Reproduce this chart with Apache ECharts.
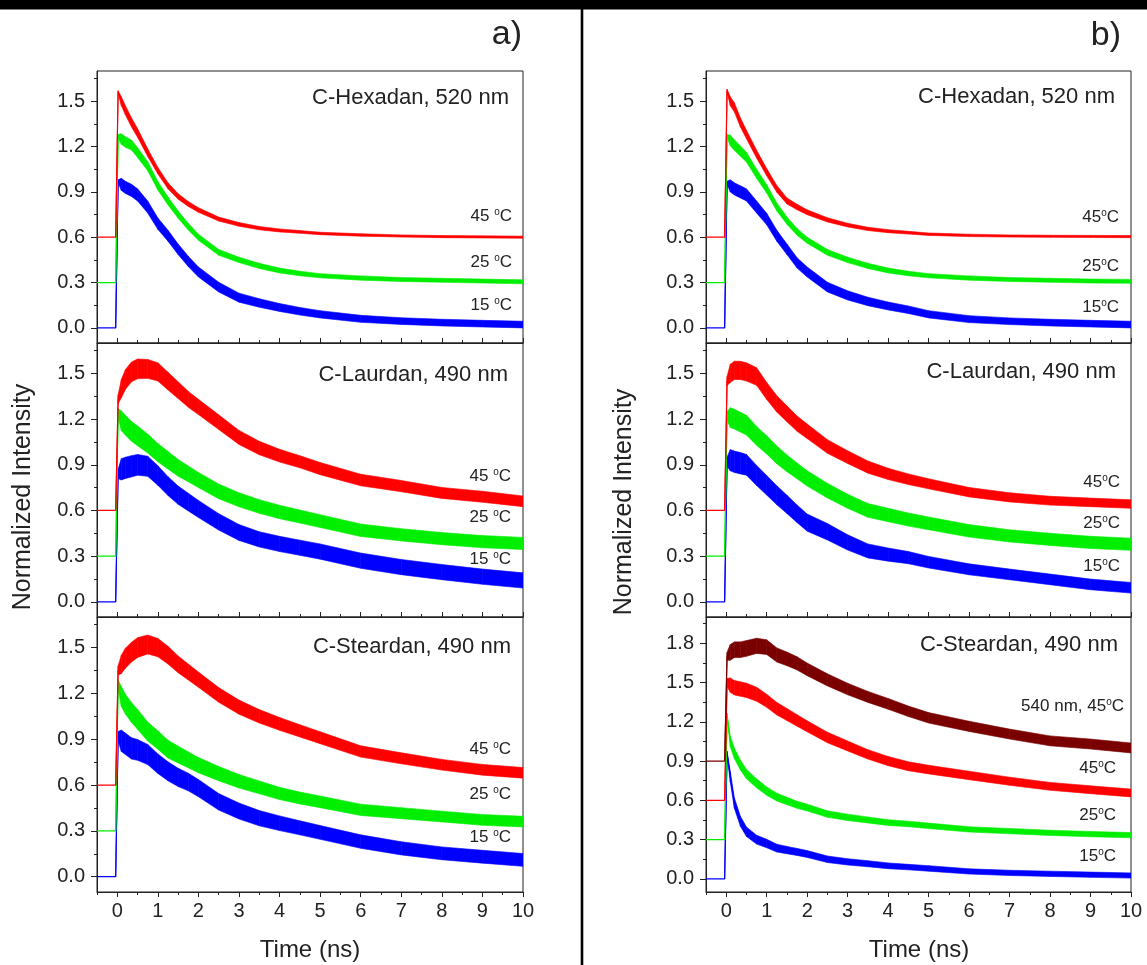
<!DOCTYPE html>
<html><head><meta charset="utf-8">
<script src="https://cdn.jsdelivr.net/npm/echarts@6/dist/echarts.min.js"></script>
<style>html,body{margin:0;padding:0;background:#fff}#c{width:1147px;height:965px}</style>
</head><body><div id="c"></div>
<script>
// ---------- DATA ----------
const T = [-0.5,-0.04,0.02,0.1,0.2,0.35,0.5,0.75,1,1.25,1.5,1.75,2,2.5,3,3.5,4,4.5,5,6,7,8,9,10];
const xTicks = [0,1,2,3,4,5,6,7,8,9,10];
const xMinorTicks = [-0.5,0.5,1.5,2.5,3.5,4.5,5.5,6.5,7.5,8.5,9.5];
const yTicks = [0,0.3,0.6,0.9,1.2,1.5];
const yMinorTicks = [0.15,0.45,0.75,1.05,1.35,1.65];
const yTicksB3 = [0,0.3,0.6,0.9,1.2,1.5,1.8];
const yMinorTicksB3 = [0.15,0.45,0.75,1.05,1.35,1.65,1.95];
const panelTitles = ['C-Hexadan, 520 nm','C-Laurdan, 490 nm','C-Steardan, 490 nm'];
const tempLabelsA = ['45 {s|o}C','25 {s|o}C','15 {s|o}C'];
const tempLabelsB = ['45{s|o}C','25{s|o}C','15{s|o}C'];
const tempLabelsB3 = ['540 nm, 45{s|o}C','45{s|o}C','25{s|o}C','15{s|o}C'];

// panel a1 (C-Hexadan) — centre values and half-width of the noise band
const a1Red   = [0.6,0.6,1.56,1.50,1.44,1.36,1.29,1.16,1.04,0.94,0.87,0.82,0.78,0.72,0.685,0.66,0.645,0.635,0.625,0.615,0.608,0.604,0.602,0.600];
const a1Green = [0.3,0.3,1.27,1.25,1.23,1.21,1.16,1.07,0.94,0.84,0.75,0.67,0.60,0.50,0.45,0.41,0.38,0.36,0.345,0.33,0.32,0.315,0.31,0.305];
const a1Blue  = [0,0,0.97,0.95,0.93,0.91,0.88,0.80,0.69,0.61,0.52,0.44,0.37,0.27,0.20,0.165,0.135,0.11,0.09,0.06,0.045,0.035,0.028,0.022];
const a1RedN   = [0,0,0.01,0.03,0.03,0.03,0.028,0.025,0.022,0.02,0.018,0.016,0.015,0.013,0.012,0.011,0.01,0.009,0.008,0.008,0.007,0.007,0.007,0.007];
const a1GreenN = [0,0,0.01,0.035,0.035,0.033,0.032,0.03,0.028,0.026,0.024,0.022,0.02,0.019,0.018,0.017,0.016,0.015,0.014,0.014,0.013,0.013,0.013,0.013];
const a1BlueN  = [0,0,0.01,0.04,0.04,0.04,0.04,0.04,0.038,0.036,0.035,0.034,0.033,0.032,0.03,0.028,0.026,0.025,0.024,0.023,0.022,0.022,0.022,0.022];
// panel b1 (C-Hexadan)
const b1Red   = [0.6,0.6,1.57,1.50,1.46,1.36,1.28,1.15,1.03,0.92,0.84,0.80,0.765,0.715,0.68,0.655,0.64,0.63,0.62,0.612,0.608,0.606,0.605,0.604];
const b1Green = [0.3,0.3,1.27,1.24,1.21,1.17,1.13,1.02,0.92,0.80,0.71,0.635,0.58,0.50,0.45,0.41,0.38,0.36,0.345,0.33,0.32,0.315,0.31,0.308];
const b1Blue  = [0,0,0.96,0.94,0.92,0.90,0.88,0.80,0.72,0.61,0.52,0.43,0.37,0.27,0.215,0.175,0.145,0.12,0.09,0.058,0.044,0.035,0.028,0.022];
const b1RedN   = [0,0,0.01,0.03,0.03,0.03,0.028,0.026,0.024,0.022,0.02,0.018,0.016,0.014,0.012,0.011,0.01,0.009,0.008,0.008,0.007,0.007,0.007,0.007];
const b1GreenN = [0,0,0.01,0.035,0.035,0.034,0.032,0.03,0.028,0.026,0.024,0.022,0.02,0.019,0.018,0.017,0.016,0.015,0.014,0.014,0.013,0.013,0.013,0.013];
const b1BlueN  = [0,0,0.01,0.04,0.04,0.04,0.04,0.04,0.038,0.036,0.035,0.034,0.033,0.032,0.03,0.028,0.026,0.025,0.024,0.023,0.022,0.022,0.022,0.022];
// panel a2 (C-Laurdan)
const a2Red   = [0.6,0.6,1.33,1.40,1.46,1.51,1.53,1.53,1.51,1.45,1.39,1.33,1.28,1.18,1.08,1.01,0.96,0.92,0.875,0.80,0.76,0.715,0.69,0.66];
const a2Green = [0.3,0.3,1.24,1.19,1.16,1.12,1.09,1.04,0.98,0.93,0.88,0.84,0.80,0.725,0.67,0.626,0.59,0.56,0.53,0.47,0.44,0.415,0.395,0.383];
const a2Blue  = [0,0,0.84,0.87,0.88,0.89,0.90,0.89,0.83,0.76,0.70,0.655,0.61,0.525,0.455,0.41,0.38,0.355,0.33,0.27,0.228,0.195,0.165,0.14];
const a2RedN   = [0,0,0.03,0.06,0.065,0.065,0.065,0.062,0.06,0.058,0.055,0.052,0.05,0.048,0.046,0.044,0.042,0.04,0.04,0.038,0.037,0.036,0.036,0.035];
const a2GreenN = [0,0,0.03,0.065,0.065,0.065,0.065,0.062,0.06,0.058,0.055,0.052,0.05,0.048,0.046,0.045,0.044,0.043,0.042,0.041,0.04,0.04,0.04,0.04];
const a2BlueN  = [0,0,0.03,0.07,0.07,0.07,0.068,0.066,0.064,0.062,0.06,0.058,0.056,0.054,0.052,0.05,0.05,0.05,0.05,0.05,0.05,0.05,0.05,0.05];
// panel b2 (C-Laurdan)
const b2Red   = [0.6,0.6,1.45,1.50,1.52,1.52,1.51,1.48,1.385,1.30,1.235,1.17,1.12,1.02,0.95,0.885,0.84,0.805,0.775,0.72,0.686,0.664,0.653,0.642];
const b2Green = [0.3,0.3,1.22,1.21,1.20,1.18,1.16,1.09,1.03,0.965,0.91,0.86,0.81,0.73,0.66,0.60,0.57,0.54,0.515,0.466,0.433,0.41,0.39,0.378];
const b2Blue  = [0,0,0.92,0.93,0.92,0.91,0.90,0.83,0.765,0.70,0.64,0.578,0.52,0.46,0.39,0.334,0.31,0.29,0.26,0.213,0.18,0.147,0.114,0.092];
const b2RedN   = [0,0,0.03,0.06,0.06,0.06,0.06,0.058,0.056,0.054,0.052,0.05,0.048,0.045,0.042,0.04,0.037,0.035,0.033,0.031,0.03,0.029,0.028,0.028];
const b2GreenN = [0,0,0.03,0.065,0.065,0.065,0.065,0.062,0.06,0.058,0.055,0.052,0.05,0.048,0.046,0.045,0.044,0.043,0.042,0.041,0.04,0.04,0.04,0.04];
const b2BlueN  = [0,0,0.03,0.07,0.07,0.07,0.068,0.066,0.064,0.062,0.06,0.058,0.056,0.054,0.05,0.046,0.043,0.04,0.038,0.036,0.035,0.035,0.035,0.035];
// panel a3 (C-Steardan)
const a3Red   = [0.6,0.6,1.35,1.39,1.43,1.47,1.50,1.52,1.50,1.45,1.39,1.34,1.29,1.19,1.11,1.05,1.00,0.955,0.91,0.82,0.775,0.733,0.70,0.68];
const a3Green = [0.3,0.3,1.26,1.18,1.13,1.075,1.03,0.95,0.895,0.835,0.80,0.765,0.73,0.675,0.625,0.585,0.545,0.515,0.49,0.438,0.416,0.394,0.372,0.361];
const a3Blue  = [0,0,0.92,0.89,0.87,0.84,0.83,0.80,0.74,0.69,0.65,0.62,0.58,0.49,0.43,0.383,0.35,0.32,0.29,0.23,0.186,0.153,0.131,0.11];
const a3RedN   = [0,0,0.03,0.06,0.065,0.065,0.065,0.062,0.06,0.058,0.055,0.052,0.05,0.048,0.046,0.044,0.042,0.04,0.039,0.037,0.036,0.035,0.035,0.035];
const a3GreenN = [0,0,0.03,0.065,0.065,0.065,0.065,0.062,0.06,0.058,0.055,0.052,0.05,0.047,0.044,0.042,0.04,0.039,0.038,0.037,0.036,0.035,0.035,0.035];
const a3BlueN  = [0,0,0.03,0.07,0.07,0.07,0.068,0.066,0.064,0.062,0.06,0.058,0.056,0.054,0.052,0.05,0.048,0.046,0.045,0.044,0.043,0.042,0.042,0.042];
// panel b3 (C-Steardan)
const b3Dark  = [0.9,0.9,1.70,1.73,1.75,1.75,1.76,1.78,1.77,1.71,1.68,1.646,1.60,1.52,1.45,1.39,1.337,1.28,1.23,1.165,1.106,1.054,1.03,1.0];
const b3Red   = [0.6,0.6,1.50,1.48,1.46,1.45,1.44,1.41,1.36,1.30,1.255,1.21,1.165,1.08,1.015,0.951,0.90,0.86,0.835,0.79,0.746,0.707,0.681,0.656];
const b3Green = [0.3,0.3,1.25,1.05,0.96,0.87,0.80,0.73,0.67,0.625,0.595,0.566,0.545,0.495,0.47,0.45,0.43,0.42,0.405,0.378,0.365,0.352,0.342,0.334];
const b3Blue  = [0,0,0.96,0.78,0.58,0.44,0.36,0.30,0.27,0.235,0.22,0.206,0.19,0.15,0.13,0.116,0.10,0.09,0.08,0.057,0.046,0.039,0.032,0.026];
const b3DarkN  = [0,0,0.03,0.06,0.06,0.06,0.06,0.058,0.056,0.054,0.052,0.05,0.048,0.046,0.044,0.042,0.041,0.04,0.04,0.039,0.038,0.038,0.038,0.038];
const b3RedN   = [0,0,0.03,0.055,0.055,0.055,0.055,0.053,0.05,0.048,0.046,0.044,0.042,0.04,0.038,0.036,0.035,0.034,0.033,0.032,0.031,0.03,0.03,0.03];
const b3GreenN = [0,0,0.015,0.04,0.04,0.038,0.036,0.034,0.032,0.03,0.028,0.027,0.026,0.025,0.024,0.023,0.022,0.021,0.021,0.02,0.02,0.02,0.02,0.02];
const b3BlueN  = [0,0,0.015,0.04,0.04,0.038,0.036,0.034,0.032,0.03,0.028,0.027,0.026,0.025,0.024,0.023,0.022,0.021,0.021,0.02,0.02,0.02,0.02,0.02];

// ---------- LAYOUT / STYLE ----------
const COL = {red:'#ff0000', green:'#00ee00', blue:'#0000ff', dark:'#7a0000'};
const FONT = '"Liberation Sans", Arial, Helvetica, sans-serif';
const AX = '#222';
const cols = [{left:97, width:426}, {left:706, width:425}];
const rows = [{top:71, height:272}, {top:343, height:274}, {top:617, height:275}];

const panels = [
  {col:0,row:0,ymax:1.7,curves:[[a1Blue,a1BlueN,'blue'],[a1Green,a1GreenN,'green'],[a1Red,a1RedN,'red']]},
  {col:0,row:1,ymax:1.7,curves:[[a2Blue,a2BlueN,'blue'],[a2Green,a2GreenN,'green'],[a2Red,a2RedN,'red']]},
  {col:0,row:2,ymax:1.7,curves:[[a3Blue,a3BlueN,'blue'],[a3Green,a3GreenN,'green'],[a3Red,a3RedN,'red']]},
  {col:1,row:0,ymax:1.7,curves:[[b1Blue,b1BlueN,'blue'],[b1Green,b1GreenN,'green'],[b1Red,b1RedN,'red']]},
  {col:1,row:1,ymax:1.7,curves:[[b2Blue,b2BlueN,'blue'],[b2Green,b2GreenN,'green'],[b2Red,b2RedN,'red']]},
  {col:1,row:2,ymax:2.0,curves:[[b3Blue,b3BlueN,'blue'],[b3Green,b3GreenN,'green'],[b3Red,b3RedN,'red'],[b3Dark,b3DarkN,'dark']]}
];

// band segment renderer: each item = [t0, lo0, hi0, t1, lo1, hi1]
function renderBand(params, api) {
  const a = api.coord([api.value(0), api.value(1)]);
  const b = api.coord([api.value(0), api.value(2)]);
  const c = api.coord([api.value(3), api.value(5)]);
  const d = api.coord([api.value(3), api.value(4)]);
  const col = api.visual('color');
  return {type:'polygon', shape:{points:[a,b,c,d]},
    style:{fill:col, stroke:col, lineWidth:0.6}};
}

const grid=[], xAxis=[], yAxis=[], series=[];
panels.forEach((p,i)=>{
  const bottom = p.row===2;
  const isB3 = (p.col===1 && p.row===2);
  grid.push({left:cols[p.col].left, width:cols[p.col].width, top:rows[p.row].top, height:rows[p.row].height,
    show:true, borderColor:AX, borderWidth:1, backgroundColor:'transparent', containLabel:false});
  xAxis.push({gridIndex:i, type:'value', min:-0.5, max:10, position:'bottom',
    axisLine:{show:true,onZero:false,lineStyle:{color:AX,width:1}},
    axisTick:{show:true, customValues:xTicks, length:5, inside:!bottom, lineStyle:{color:AX}},
    axisLabel:{show:bottom, customValues:xTicks, margin:9, fontSize:20, color:AX, fontFamily:FONT},
    splitLine:{show:false}});
  xAxis.push({gridIndex:i, type:'value', min:-0.5, max:10, position:'bottom',
    axisLine:{show:false,onZero:false},
    axisTick:{show:true, customValues:xMinorTicks, length:3, inside:!bottom, lineStyle:{color:AX}},
    axisLabel:{show:false}, splitLine:{show:false}});
  yAxis.push({gridIndex:i, type:'value', min:-0.1, max:p.ymax, position:'left',
    axisLine:{show:true,onZero:false,lineStyle:{color:AX,width:1}},
    axisTick:{show:true, customValues:isB3?yTicksB3:yTicks, length:6, inside:false, lineStyle:{color:AX}},
    axisLabel:{show:true, customValues:isB3?yTicksB3:yTicks, margin:12, fontSize:20, color:AX, fontFamily:FONT,
      formatter:v=>Number(v).toFixed(1)},
    splitLine:{show:false}});
  yAxis.push({gridIndex:i, type:'value', min:-0.1, max:p.ymax, position:'left',
    axisLine:{show:false,onZero:false},
    axisTick:{show:true, customValues:isB3?yMinorTicksB3:yMinorTicks, length:3, inside:false, lineStyle:{color:AX}},
    axisLabel:{show:false}, splitLine:{show:false}});
  p.curves.forEach((c,k)=>{
    const [center, noise, cname] = c;
    const color = COL[cname];
    const segs = [];
    for (let j=0;j<T.length-1;j++) {
      if (noise[j]===0 && noise[j+1]===0) continue;
      segs.push([T[j], center[j]-noise[j], center[j]+noise[j], T[j+1], center[j+1]-noise[j+1], center[j+1]+noise[j+1]]);
    }
    series.push({type:'custom', xAxisIndex:2*i, yAxisIndex:2*i, renderItem:renderBand, data:segs,
      encode:{x:[0,3], y:[1,2,4,5]}, itemStyle:{color:color}, silent:true, animation:false, z:2+k, clip:true});
    series.push({type:'line', xAxisIndex:2*i, yAxisIndex:2*i, symbol:'none', silent:true, animation:false,
      data:T.map((t,j)=>[t, center[j]]), lineStyle:{width:1.2,color:color}, z:2+k});
  });
});

// ---------- TEXT ----------
const txt = (x,y,text,size,align,extra)=>Object.assign({type:'text', x:x, y:y, silent:true,
  style:{text:text, fill:'#222', fontSize:size, fontFamily:FONT, align:align, verticalAlign:'middle'}}, extra||{});
const temp = (x,y,text)=>({type:'text', x:x, y:y, silent:true, style:{text:text, fill:'#222', fontSize:17,
  fontFamily:FONT, align:'right', verticalAlign:'middle', rich:{s:{fontSize:10, fill:'#222', fontFamily:FONT, verticalAlign:'top'}}}});

const graphic = [
  {type:'rect', shape:{x:0,y:0,width:1147,height:9.5}, style:{fill:'#000'}, silent:true},
  {type:'rect', shape:{x:580.7,y:9,width:2.6,height:956}, style:{fill:'#000'}, silent:true},
  txt(522,35,'a)',34,'right'),
  txt(1121,36,'b)',34,'right'),
  txt(509,98,panelTitles[0],22,'right'),
  txt(508,375,panelTitles[1],22,'right'),
  txt(511,647,panelTitles[2],22,'right'),
  txt(1115,97,panelTitles[0],22,'right'),
  txt(1116,372,panelTitles[1],22,'right'),
  txt(1118,645,panelTitles[2],22,'right'),
  txt(310,950,'Time (ns)',24,'center'),
  txt(919,950,'Time (ns)',24,'center'),
  txt(23,497,'Normalized Intensity',25,'center',{rotation:Math.PI/2}),
  txt(624,502,'Normalized Intensity',25,'center',{rotation:Math.PI/2}),
  temp(512,216,tempLabelsA[0]), temp(512,262,tempLabelsA[1]), temp(512,305,tempLabelsA[2]),
  temp(511,476,tempLabelsA[0]), temp(511,517,tempLabelsA[1]), temp(511,559,tempLabelsA[2]),
  temp(511,749,tempLabelsA[0]), temp(511,794,tempLabelsA[1]), temp(511,837,tempLabelsA[2]),
  temp(1119,217,tempLabelsB[0]), temp(1119,266,tempLabelsB[1]), temp(1119,307,tempLabelsB[2]),
  temp(1120,482,tempLabelsB[0]), temp(1120,523,tempLabelsB[1]), temp(1120,566,tempLabelsB[2]),
  temp(1124,706,tempLabelsB3[0]), temp(1116,768,tempLabelsB3[1]), temp(1116,815,tempLabelsB3[2]), temp(1116,856,tempLabelsB3[3])
];

const chart = echarts.init(document.getElementById('c'), null, {renderer:'canvas'});
chart.setOption({animation:false, backgroundColor:'#fff', grid, xAxis, yAxis, series, graphic});
</script></body></html>
